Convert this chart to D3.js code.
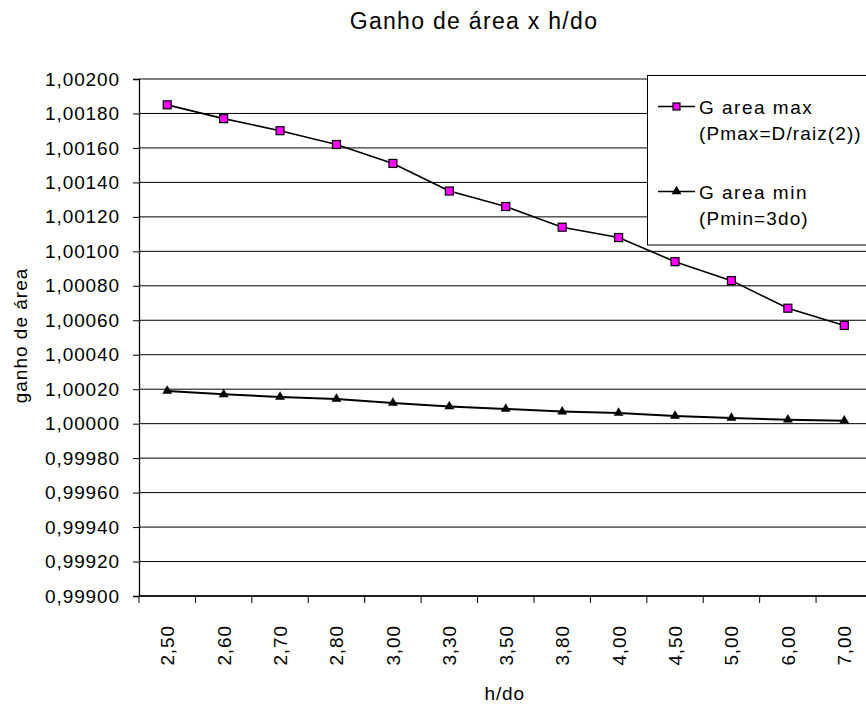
<!DOCTYPE html>
<html>
<head>
<meta charset="utf-8">
<script src="https://cdn.jsdelivr.net/npm/d3@7"></script>
<style>
  html, body { margin: 0; padding: 0; background: #fff; }
  svg { display: block; }
  text { font-family: "Liberation Sans", Arial, sans-serif; fill: #000; }
</style>
</head>
<body>
<svg id="chart" width="866" height="706"></svg>
<script>
// h/do categories and area-gain series
const categories = ["2,50", "2,60", "2,70", "2,80", "3,00", "3,30", "3,50", "3,80", "4,00", "4,50", "5,00", "6,00", "7,00"];
const gAreaMax = [1.00185, 1.00177, 1.00170, 1.00162, 1.00151, 1.00135, 1.00126, 1.00114, 1.00108, 1.00094, 1.00083, 1.00067, 1.00057];
const gAreaMin = [1.00019, 1.00017, 1.000155, 1.000143, 1.00012, 1.00010, 1.000085, 1.00007, 1.000062, 1.000045, 1.000033, 1.000023, 1.000017];
const yTicks = [0.999, 0.9992, 0.9994, 0.9996, 0.9998, 1.0, 1.0002, 1.0004, 1.0006, 1.0008, 1.001, 1.0012, 1.0014, 1.0016, 1.0018, 1.002];
const seriesNames = [["G area max", "(Pmax=D/raiz(2))"], ["G area min", "(Pmin=3do)"]];

const svg = d3.select("#chart");
const plot = { left: 139, right: 872.5, top: 79, bottom: 596 };

const x = d3.scaleBand().domain(categories).range([plot.left, plot.right]).padding(0);
const y = d3.scaleLinear().domain([0.999, 1.002]).range([plot.bottom, plot.top]);

const ptBR = d3.formatLocale({ decimal: ",", thousands: ".", grouping: [3], currency: ["", ""] });
const fmt = ptBR.format(".5f");

// horizontal gridlines
svg.append("g")
  .selectAll("line")
  .data(yTicks)
  .join("line")
  .attr("x1", plot.left).attr("x2", plot.right)
  .attr("y1", d => y(d)).attr("y2", d => y(d))
  .attr("stroke", "#000").attr("stroke-width", 1);

// y axis
const yAxis = svg.append("g")
  .attr("transform", `translate(${plot.left},0)`)
  .call(d3.axisLeft(y).tickValues(yTicks).tickFormat(fmt).tickSize(6).tickPadding(13));
yAxis.select(".domain").attr("stroke", "#000").attr("stroke-width", 1.3);
yAxis.selectAll(".tick line").attr("stroke", "#000");
yAxis.selectAll(".tick text")
  .style("font-family", "'Liberation Sans', Arial, sans-serif")
  .style("font-size", "19px").style("letter-spacing", "0.9px").attr("fill", "#000");

// x axis: ticks on category boundaries, labels rotated at band centres
const xAxis = svg.append("g")
  .attr("transform", `translate(0,${plot.bottom})`);
xAxis.append("line")
  .attr("x1", plot.left).attr("x2", plot.right)
  .attr("y1", 0).attr("y2", 0)
  .attr("stroke", "#000").attr("stroke-width", 1.3);
xAxis.selectAll(".tk")
  .data(categories)
  .join("line")
  .attr("class", "tk")
  .attr("x1", d => x(d)).attr("x2", d => x(d))
  .attr("y1", 0).attr("y2", 7)
  .attr("stroke", "#000");
xAxis.selectAll(".lbl")
  .data(categories)
  .join("text")
  .attr("class", "lbl")
  .attr("transform", d => `translate(${x(d) + x.bandwidth() / 2 + 7},29) rotate(-90)`)
  .attr("text-anchor", "end")
  .style("font-size", "19px").style("letter-spacing", "0.9px")
  .text(d => d);

// series lines
const line = d3.line()
  .x((d, i) => x(categories[i]) + x.bandwidth() / 2)
  .y(d => y(d));

svg.append("path").datum(gAreaMin)
  .attr("d", line).attr("fill", "none").attr("stroke", "#000").attr("stroke-width", 2);
svg.append("path").datum(gAreaMax)
  .attr("d", line).attr("fill", "none").attr("stroke", "#000").attr("stroke-width", 1.6);

const tri = d3.symbol().type(d3.symbolTriangle).size(42);

svg.append("g").selectAll("path")
  .data(gAreaMin)
  .join("path")
  .attr("d", tri)
  .attr("transform", (d, i) => `translate(${x(categories[i]) + x.bandwidth() / 2},${y(d)})`)
  .attr("fill", "#000");

svg.append("g").selectAll("rect")
  .data(gAreaMax)
  .join("rect")
  .attr("x", (d, i) => x(categories[i]) + x.bandwidth() / 2 - 4)
  .attr("y", d => y(d) - 4)
  .attr("width", 8).attr("height", 8)
  .attr("fill", "#ff00ff").attr("stroke", "#000").attr("stroke-width", 1.2);

// legend
const lg = svg.append("g");
lg.append("rect")
  .attr("x", 647.5).attr("y", 75.5).attr("width", 240).attr("height", 169.5)
  .attr("fill", "#fff").attr("stroke", "#000").attr("stroke-width", 1);

const legendRows = [
  { name: seriesNames[0], y: 106.5, kind: "square" },
  { name: seriesNames[1], y: 191.5, kind: "triangle" }
];
legendRows.forEach(r => {
  lg.append("line")
    .attr("x1", 658).attr("x2", 695).attr("y1", r.y).attr("y2", r.y)
    .attr("stroke", "#000").attr("stroke-width", 1.5);
  if (r.kind === "square") {
    lg.append("rect")
      .attr("x", 673).attr("y", r.y - 3.5).attr("width", 7).attr("height", 7)
      .attr("fill", "#ff00ff").attr("stroke", "#000").attr("stroke-width", 1.2);
  } else {
    lg.append("path").attr("d", tri)
      .attr("transform", `translate(676.5,${r.y})`).attr("fill", "#000");
  }
  lg.append("text")
    .attr("x", 699).attr("y", r.y + 7.5)
    .style("font-size", "19px").style("letter-spacing", "1.5px")
    .text(r.name[0]);
  lg.append("text")
    .attr("x", 699).attr("y", r.y + 33.5)
    .style("font-size", "19px").style("letter-spacing", "1.1px")
    .text(r.name[1]);
});

// titles
svg.append("text")
  .attr("x", 474).attr("y", 29)
  .attr("text-anchor", "middle")
  .style("font-size", "23px").style("letter-spacing", "1.3px")
  .text("Ganho de área x h/do");

svg.append("text")
  .attr("x", (plot.left + plot.right) / 2 - 1).attr("y", 700)
  .attr("text-anchor", "middle")
  .style("font-size", "19px").style("letter-spacing", "0.9px")
  .text("h/do");

svg.append("text")
  .attr("transform", `translate(27,${(plot.top + plot.bottom) / 2 - 2}) rotate(-90)`)
  .attr("text-anchor", "middle")
  .style("font-size", "19px").style("letter-spacing", "1px")
  .text("ganho de área");
</script>
</body>
</html>
